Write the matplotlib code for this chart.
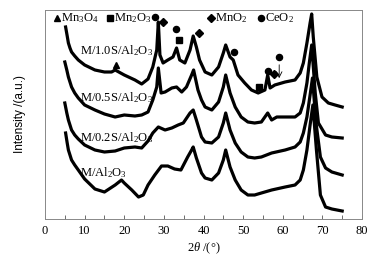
import numpy as np
import matplotlib
matplotlib.use("Agg")
import matplotlib.pyplot as plt

plt.rcParams['font.family'] = ['Liberation Serif', 'DejaVu Sans']
plt.rcParams['mathtext.fontset'] = 'custom'
plt.rcParams['mathtext.rm'] = 'Liberation Serif'
plt.rcParams['mathtext.it'] = 'Liberation Serif:italic'

# 2theta (deg) and intensity (a.u., stacked offsets)
tt_10S = [5.2, 5.6, 5.9, 6.3, 6.7, 7.5, 8.4, 10, 12.6, 15, 16.8, 17.7, 20, 22.7, 24.4, 26,
          27.2, 28.2, 28.6, 29.0, 29.8, 31, 32.3, 33.2, 34, 35.3, 36.6, 37.4, 38.2, 39,
          40.4, 42.1, 43.8, 45, 45.6, 46.7, 47.5, 48.7, 50.4, 52.1, 53.8, 55.5, 56.2,
          56.8, 58, 60.6, 63.1, 64.4, 65.2, 66.1, 66.9, 67.3, 67.7, 68.6, 69.9, 71.5,
          73.2, 75]
I_10S = [192, 183, 176, 171, 167, 163, 159, 154, 149, 147, 147, 149, 144, 139, 135, 140,
         152, 169, 197, 164, 156, 159, 162, 171, 159, 156, 169, 183, 172, 159,
         147, 144, 152, 166, 174, 162, 159, 144, 136, 129, 126, 129, 144,
         131, 134, 137, 139, 146, 156, 176, 196, 205, 182, 142, 122, 116,
         114, 112]

tt_05S = [5.0, 5.5, 5.9, 6.3, 6.7, 7.5, 8.4, 10, 12.6, 15, 17.7, 20, 22.7, 24.4, 26, 27.2,
          28.2, 28.6, 29.3, 30.3, 32, 33.2, 34.5, 35.7, 37, 37.5, 38.6, 39.5, 40.4, 42.1,
          43.8, 45, 45.6, 46.7, 48, 49.5, 51.2, 52.9, 54.6, 56.2, 57.2, 58.5, 60.6, 63.1,
          64.4, 65.2, 66.1, 66.7, 67.3, 68.2, 69, 70.8, 72.4, 75]
I_05S = [157, 149, 142, 137, 132, 126, 121, 114, 109, 105, 102, 104, 103, 104, 107, 119,
         132, 151, 126, 127, 131, 132, 127, 132, 144, 149, 129, 119, 112, 109,
         117, 132, 144, 126, 112, 102, 97, 96, 97, 106, 99, 102, 102, 102,
         106, 116, 136, 156, 174, 126, 96, 84, 82, 81]

tt_02S = [5.0, 5.5, 5.9, 6.3, 6.7, 7.5, 8.4, 10, 12.6, 15, 17.7, 20, 22.7, 24.4, 26, 27.2,
          28.6, 30.3, 32, 33.6, 34.9, 36.6, 37.4, 38.2, 39.5, 40.4, 42.1, 43.8, 45, 45.6,
          46.7, 48, 49.5, 51.2, 52.9, 54.6, 57.2, 60.6, 63.1, 64.4, 65.2, 66.1, 66.9,
          67.5, 68.4, 69.5, 70.8, 72.4, 75]
I_02S = [116, 106, 99, 94, 89, 84, 80, 74, 69, 67, 68, 71, 72, 71, 78, 86,
         92, 89, 91, 94, 96, 106, 109, 99, 82, 77, 76, 82, 96, 106,
         89, 76, 67, 62, 61, 62, 66, 69, 72, 77, 86, 102, 124,
         141, 96, 62, 51, 47, 44]

tt_Al = [5.2, 5.6, 5.9, 6.3, 6.7, 7.5, 8.4, 10, 12.6, 15, 17.7, 19.3, 20, 21.9, 23.6,
         24.8, 26, 27.7, 29.4, 31, 32.7, 34.3, 36, 37, 37.4, 38.2, 39.5, 40.4, 42.1, 43.8,
         45, 45.6, 46.7, 48, 49.5, 51.2, 52.9, 54.6, 57.2, 60.6, 63.1, 64.4, 65.2, 66.1,
         66.9, 67.6, 68.5, 69.5, 70.8, 72.4, 75]
I_Al = [86, 76, 69, 64, 59, 54, 49, 40, 30, 27, 34, 39, 36, 29, 22,
        24, 34, 44, 53, 53, 50, 49, 62, 69, 72, 61, 46, 41, 39, 46,
        59, 69, 52, 39, 29, 24, 24, 26, 29, 32, 34, 39, 49, 69,
        94, 114, 69, 24, 12, 10, 8]

series = [(tt_10S, I_10S, 'M/1.0S/Al$\\mathregular{_2}$O$\\mathregular{_3}$', 168),
          (tt_05S, I_05S, 'M/0.5S/Al$\\mathregular{_2}$O$\\mathregular{_3}$', 121),
          (tt_02S, I_02S, 'M/0.2S/Al$\\mathregular{_2}$O$\\mathregular{_3}$', 81),
          (tt_Al, I_Al, 'M/Al$\\mathregular{_2}$O$\\mathregular{_3}$', 46)]

# phase markers on the top pattern: (2theta, intensity, marker)
phase_marks = [(17.9, 154, '^'), (27.8, 202, 'o'), (29.7, 197, 'D'), (33.0, 190, 'o'),
               (33.8, 179, 's'), (38.9, 186, 'D'), (47.8, 167, 'o'), (54.0, 132, 's'),
               (56.3, 148, 'o'), (57.9, 145, 'D'), (59.1, 162, 'o')]
legend_items = [('^', 'Mn$\\mathregular{_3}$O$\\mathregular{_4}$', 3.0),
                ('s', 'Mn$\\mathregular{_2}$O$\\mathregular{_3}$', 16.4),
                ('D', 'MnO$\\mathregular{_2}$', 41.9),
                ('o', 'CeO$\\mathregular{_2}$', 54.5)]

fig = plt.figure(figsize=(3.89, 2.56), dpi=100)
ax = fig.add_axes([0.1157, 0.1445, 0.8149, 0.8165])

for tt, inten, name, ylab in series:
    ax.plot(tt, inten, color='black', lw=2.3, solid_joinstyle='round')
    ax.text(8.8, ylab, name, fontsize=9, va='center', ha='left')

for x, y, m in phase_marks:
    ms = 4.4 if m != 'D' else 3.8
    ax.plot(x, y, marker=m, color='black', ms=ms, ls='none')
ax.annotate('', xy=(59.1, 138), xytext=(59.1, 157),
            arrowprops=dict(arrowstyle='->', color='black', lw=0.6))

for m, name, x in legend_items:
    ms = 4.4 if m != 'D' else 3.8
    ax.plot(x, 201, marker=m, color='black', ms=ms, ls='none', clip_on=False)
    ax.text(x + 1.0, 201, name, fontsize=9, va='center', ha='left')

ax.set_xlim(0, 80)
ax.set_ylim(0, 209)
ax.set_xticks(np.arange(0, 81, 10))
ax.set_xticks(np.arange(5, 80, 10), minor=True)
ax.set_yticks([])
ax.tick_params(axis='x', direction='in', length=3, width=0.6, labelsize=9, color='#555555', pad=4)
ax.tick_params(axis='x', which='minor', direction='in', length=3, width=0.6, color='#555555')
for s in ax.spines.values():
    s.set_color('#888888')
    s.set_linewidth(0.7)

ax.set_xlabel('$\\mathit{2\\theta}$ /(°)', fontsize=9, labelpad=3)
ax.set_ylabel('Intensity /(a.u.)', fontsize=8.5, family='Liberation Sans', labelpad=14)

fig.savefig('out.png', dpi=100)
